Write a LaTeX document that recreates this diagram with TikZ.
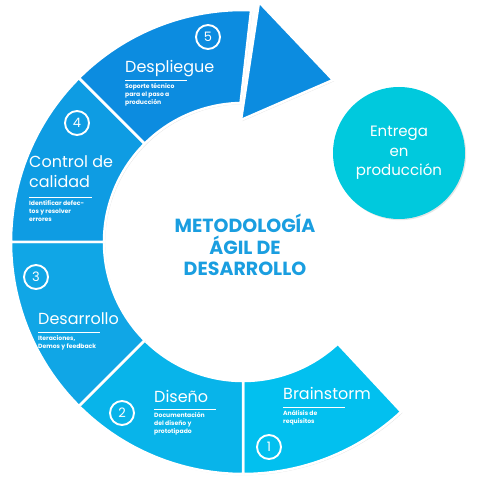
\documentclass[tikz,border=0pt]{standalone}
\usepackage{fontspec}
\setmainfont{Poppins}
\usetikzlibrary{shadows}

\definecolor{bluebrain}{HTML}{02C0EF}
\definecolor{bluediseno}{HTML}{08B4EA}
\definecolor{bluedesarr}{HTML}{10A6E6}
\definecolor{bluecontrol}{HTML}{0E9CE3}
\definecolor{bluedespl}{HTML}{0C8CE0}
\definecolor{bluetitle}{HTML}{1A9EE0}
\definecolor{tealentrega}{HTML}{00C9DD}

\begin{document}
\begin{tikzpicture}[x=1pt,y=1pt,
	segment/.style={draw=white, line width=2.5pt, drop shadow={opacity=0.22, shadow xshift=1.2pt, shadow yshift=-1.2pt}},
	stepnum/.style={draw=white, line width=1.9pt, shape=circle, minimum size=24pt, inner sep=0pt, text=white, font=\fontsize{13}{13}\selectfont},
	steptitle/.style={anchor=base west, inner sep=0pt, text=white, align=left, font=\fontsize{16}{20}\selectfont},
	stepnote/.style={anchor=north west, inner sep=0pt, text=white, align=left, font=\bfseries\fontsize{6.1}{8}\selectfont},
	underline/.style={draw=white, line width=0.9pt}]
	\useasboundingbox (0,0) rectangle (480,480);

	% ring segments
	\begin{scope}[shift={(243,238)}]
		\path [segment, fill=bluebrain] (-90:232) arc[start angle=-90, end angle=-47, radius=232] -- (-47:139) arc[start angle=-47, end angle=-90, radius=139] -- cycle;
		\path [segment, fill=bluediseno] (-135:232) arc[start angle=-135, end angle=-90, radius=232] -- (-90:139) arc[start angle=-90, end angle=-135, radius=139] -- cycle;
		\path [segment, fill=bluedesarr] (180:232) arc[start angle=180, end angle=225, radius=232] -- (225:139) arc[start angle=225, end angle=180, radius=139] -- cycle;
		\path [segment, fill=bluecontrol] (135:232) arc[start angle=135, end angle=180, radius=232] -- (180:139) arc[start angle=180, end angle=135, radius=139] -- cycle;
		\path [segment, fill=bluedespl] (88:232) arc[start angle=88, end angle=135, radius=232] -- (135:139) arc[start angle=135, end angle=91, radius=139] -- cycle;
	\end{scope}

	% arrow head
	\path [segment, fill=bluedespl] (259,478) -- (333,400) -- (241,360) -- cycle;

	% numbers
	\node [stepnum] (n1) at (269, 33) {1};
	\node [stepnum] (n2) at (122, 67) {2};
	\node [stepnum] (n3) at (36, 203) {3};
	\node [stepnum] (n4) at (77, 357) {4};
	\node [stepnum] (n5) at (208, 443) {5};

	% titles
	\node [steptitle] (t1) at (283, 80) {Brainstorm};
	\node [steptitle] (t2) at (154, 77) {Diseño};
	\node [steptitle] (t3) at (38, 155) {Desarrollo};
	\node [steptitle] (t4) at (29, 292) {Control de\\calidad};
	\node [steptitle] (t5) at (125, 407) {Despliegue};

	\draw [underline] (283, 73) -- (345, 73);
	\draw [underline] (154, 71) -- (216, 71);
	\draw [underline] (38, 148) -- (100, 148);
	\draw [underline] (29, 283) -- (92, 283);
	\draw [underline] (125, 400) -- (187, 400);

	% notes
	\node [stepnote] (s1) at (283, 69.5) {Análisis de\\requisitos};
	\node [stepnote] (s2) at (154, 67.5) {Documentación\\del diseño y\\prototipado};
	\node [stepnote] (s3) at (38, 144.5) {Iteraciones,\\Demos y feedback};
	\node [stepnote] (s4) at (29, 279.5) {Identificar defec-\\tos y resolver\\errores};
	\node [stepnote] (s5) at (125, 396.5) {Soporte técnico\\para el paso a\\producción};

	% centre
	\node [text=bluetitle, align=center, font=\bfseries\fontsize{19}{21.5}\selectfont] (title) at (245, 235) {METODOLOGÍA\\ÁGIL DE\\DESARROLLO};

	% delivery
	\node [fill=tealentrega, shape=circle, minimum size=132pt, inner sep=0pt, text=white, align=center, font=\fontsize{15}{19.5}\selectfont, drop shadow={opacity=0.2, shadow xshift=1.2pt, shadow yshift=-1.2pt}] (entrega) at (399, 327) {Entrega\\en\\producción};
\end{tikzpicture}
\end{document}
